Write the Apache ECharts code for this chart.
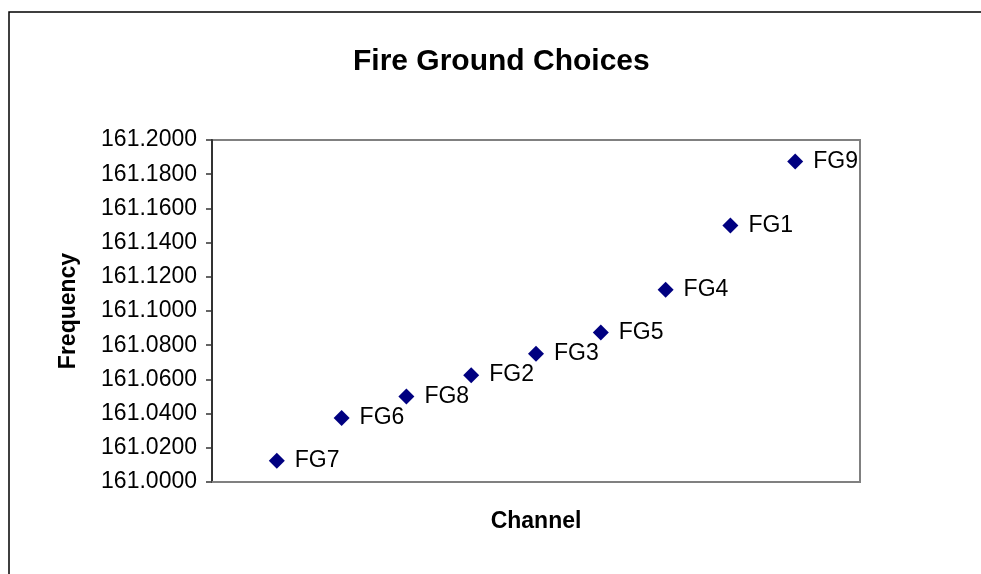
<!DOCTYPE html>
<html>
<head>
<meta charset="utf-8">
<script src="https://cdn.jsdelivr.net/npm/echarts@6/dist/echarts.min.js"></script>
<style>
  html, body { margin: 0; padding: 0; background: #fff; }
  #chart { width: 981px; height: 574px; }
</style>
</head>
<body>
<div id="chart"></div>
<script>
// channel names in plotting order (Excel scatter uses 1..n for x)
const channels = ["FG7", "FG6", "FG8", "FG2", "FG3", "FG5", "FG4", "FG1", "FG9"];
const frequencies = [161.0125, 161.0375, 161.05, 161.0625, 161.075, 161.0875, 161.1125, 161.15, 161.1875];
const yTicks = [161.0, 161.02, 161.04, 161.06, 161.08, 161.1, 161.12, 161.14, 161.16, 161.18, 161.2];

document.addEventListener("DOMContentLoaded", function () {
  const chart = echarts.init(document.getElementById("chart"));
  const font = "Liberation Sans, Arial, sans-serif";

  const points = channels.map((name, i) => ({ name: name, value: [i + 1, frequencies[i]] }));

  const option = {
    animation: false,
    backgroundColor: "#fff",
    title: {
      text: "Fire Ground Choices",
      left: 348,
      top: 42,
      textStyle: { fontFamily: font, fontSize: 30, fontWeight: "bold", color: "#000" }
    },
    graphic: [
      {
        // outer chart frame (runs off the right and bottom edges)
        type: "rect",
        shape: { x: 9, y: 12, width: 1100, height: 700 },
        style: { fill: null, stroke: "#000", lineWidth: 1.5 },
        silent: true,
        z: -1
      }
    ],
    grid: {
      left: 212,
      right: 121,
      top: 140,
      bottom: 92,
      show: true,
      borderColor: "#808080",
      borderWidth: 2,
      backgroundColor: "#fff"
    },
    xAxis: {
      type: "value",
      min: 0,
      max: 10,
      name: "Channel",
      nameLocation: "middle",
      nameGap: 28,
      nameTextStyle: { fontFamily: font, fontSize: 23, fontWeight: "bold", color: "#000" },
      axisLine: { show: true, lineStyle: { color: "#808080", width: 2 } },
      axisTick: { show: false },
      axisLabel: { show: false },
      splitLine: { show: false }
    },
    yAxis: {
      type: "value",
      min: yTicks[0],
      max: yTicks[yTicks.length - 1],
      interval: 0.02,
      name: "Frequency",
      nameLocation: "middle",
      nameGap: 132,
      nameTextStyle: { fontFamily: font, fontSize: 23, fontWeight: "bold", color: "#000" },
      axisLine: { show: true, lineStyle: { color: "#333", width: 2 } },
      axisTick: { show: true, inside: false, length: 6, lineStyle: { color: "#333", width: 1.5 } },
      axisLabel: {
        fontFamily: font,
        fontSize: 23,
        color: "#000",
        margin: 15,
        formatter: function (v) { return v.toFixed(4); }
      },
      splitLine: { show: false }
    },
    series: [
      {
        type: "scatter",
        data: points,
        symbol: "diamond",
        symbolSize: 16,
        itemStyle: { color: "#000080", opacity: 1 },
        label: {
          show: true,
          position: "right",
          distance: 10,
          formatter: "{b}",
          fontFamily: font,
          fontSize: 23,
          color: "#000"
        }
      }
    ]
  };

  chart.setOption(option);
  window.addEventListener("resize", function () {
    chart.resize();
  });
});
</script>
</body>
</html>
